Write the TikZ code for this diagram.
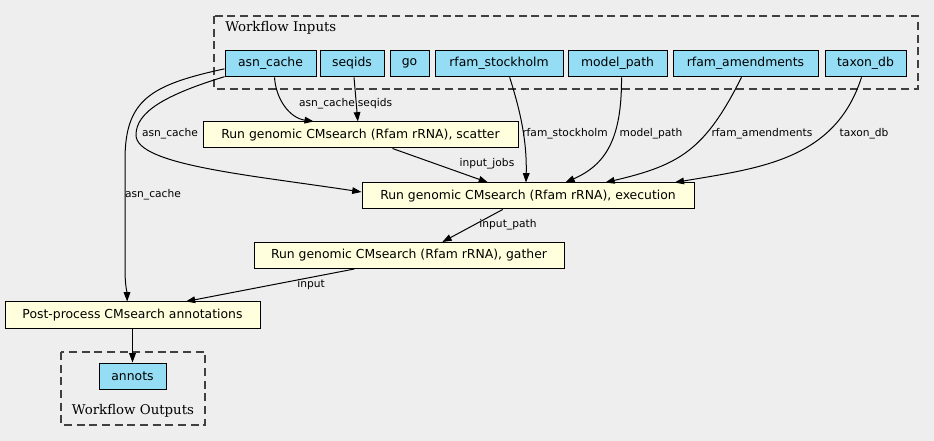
\documentclass[tikz,border=0pt]{standalone}
\usepackage{fontspec}
\setmainfont{DejaVu Sans}
\newfontfamily\clusterfont{DejaVu Serif}
\usetikzlibrary{arrows.meta}
\definecolor{bgcol}{HTML}{EEEEEE}
\definecolor{inpcol}{HTML}{94DDF4}
\definecolor{stepcol}{HTML}{FFFFDD}

\begin{document}
\begin{tikzpicture}[
    x=0.75pt, y=0.75pt,
    inp/.style={draw, fill=inpcol, line width=0.75pt, minimum height=20pt, inner sep=0pt, font=\fontsize{9.3}{11}\selectfont},
    stepbox/.style={draw, fill=stepcol, line width=0.75pt, minimum height=19.5pt, inner sep=0pt, font=\fontsize{9.3}{11}\selectfont},
    lbl/.style={inner sep=0pt, font=\fontsize{8}{9}\selectfont},
    cluster/.style={draw=black!75, line width=0.8pt, dash pattern=on 6pt off 3.5pt},
    cltext/.style={inner sep=0pt, font=\clusterfont\fontsize{10}{12}\selectfont},
    arrow/.style={-{Triangle[length=7pt,width=5pt]}, line width=0.75pt}
]
    \useasboundingbox[fill=bgcol] (0,0) rectangle (934,-441);

    % clusters
    \draw[cluster] (214,-16) rectangle (918,-89);
    \node[cltext, anchor=west] (inlabel) at (225,-28) {Workflow Inputs};
    \draw[cluster] (61,-352) rectangle (205,-425);
    \node[cltext] (outlabel) at (133,-411) {Workflow Outputs};

    % inputs
    \node[inp, minimum width=68.25pt] (asn) at (270.5,-63.5) {asn\_cache};
    \node[inp, minimum width=48pt] (seqids) at (352,-63.5) {seqids};
    \node[inp, minimum width=29.25pt] (go) at (409.5,-63.5) {go};
    \node[inp, minimum width=96pt] (stock) at (499,-63.5) {rfam\_stockholm};
    \node[inp, minimum width=74.25pt] (model) at (617.5,-63.5) {model\_path};
    \node[inp, minimum width=108.75pt] (amend) at (745.5,-63.5) {rfam\_amendments};
    \node[inp, minimum width=60.75pt] (taxon) at (865.5,-63.5) {taxon\_db};

    % steps
    \node[stepbox, minimum width=236.25pt] (scatter) at (360.5,-135) {Run genomic CMsearch (Rfam rRNA), scatter};
    \node[stepbox, minimum width=249pt] (exec) at (528,-196) {Run genomic CMsearch (Rfam rRNA), execution};
    \node[stepbox, minimum width=232.5pt] (gather) at (409,-255.5) {Run genomic CMsearch (Rfam rRNA), gather};
    \node[stepbox, minimum width=191.25pt] (post) at (132.5,-315) {Post-process CMsearch annotations};

    % output
    \node[inp, minimum width=50.25pt, minimum height=19.5pt] (annots) at (132.5,-376) {annots};

    % edges
    \draw[arrow] ([xshift=3pt]asn.south) .. controls (276,-100) and (290,-118) .. ([xshift=-35pt]scatter.north);
    \draw[arrow] ([xshift=1.5pt]seqids.south) -- ([xshift=-2pt]scatter.north);
    \draw[arrow] ([yshift=0.5pt]asn.south west) .. controls (165,-95) and (136,-112) .. (136,-135)
        .. controls (136,-165) and (250,-175) .. ([yshift=3pt]exec.west);
    \draw[arrow] ([yshift=-4pt]asn.west) .. controls (150,-85) and (125,-100) .. (125,-160)
        -- (125,-270) .. controls (125,-285) and (127,-292) .. ([xshift=-4pt]post.north);
    \draw[arrow] ([xshift=8pt]stock.south) .. controls (520,-110) and (527,-140) .. ([xshift=-1.5pt]exec.north);
    \draw[arrow] ([xshift=3pt]model.south) .. controls (622,-140) and (605,-165) .. ([xshift=28pt]exec.north);
    \draw[arrow] ([xshift=-3pt]amend.south) .. controls (705,-150) and (680,-165) .. ([xshift=58pt]exec.north);
    \draw[arrow] ([xshift=-3pt]taxon.south) .. controls (835,-160) and (760,-168) .. ([xshift=110pt]exec.north);
    \draw[arrow] ([xshift=24pt]scatter.south) -- ([xshift=-30pt]exec.north);
    \draw[arrow] ([xshift=-19pt]exec.south) -- ([xshift=25pt]gather.north);
    \draw[arrow] ([xshift=-41pt]gather.south) -- ([xshift=40pt]post.north);
    \draw[arrow] (post) -- (annots);

    % edge labels
    \node[lbl] (l1) at (327,-104) {asn\_cache};
    \node[lbl] (l2) at (375,-104) {seqids};
    \node[lbl] (l3) at (170,-134) {asn\_cache};
    \node[lbl] (l4) at (153,-195) {asn\_cache};
    \node[lbl] (l5) at (565,-134) {rfam\_stockholm};
    \node[lbl] (l6) at (651,-134) {model\_path};
    \node[lbl] (l7) at (762,-134) {rfam\_amendments};
    \node[lbl] (l8) at (864,-134) {taxon\_db};
    \node[lbl] (l9) at (487,-164) {input\_jobs};
    \node[lbl] (l10) at (508,-225) {input\_path};
    \node[lbl] (l11) at (311,-285) {input};
\end{tikzpicture}
\end{document}
